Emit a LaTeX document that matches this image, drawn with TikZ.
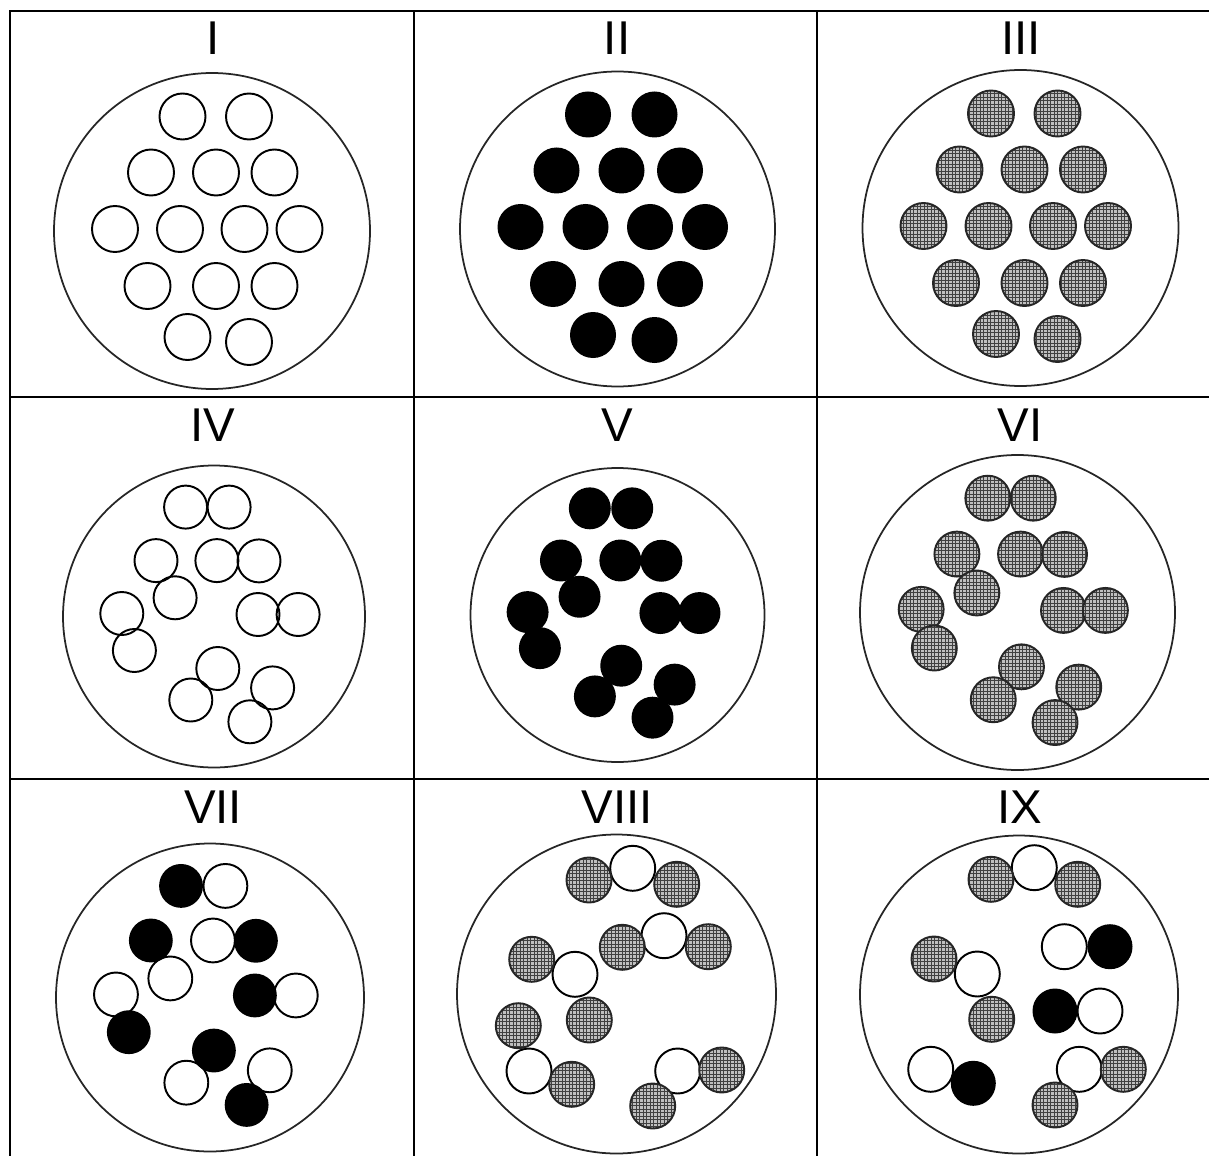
\documentclass[tikz,border=0pt]{standalone}
\usepackage{fontspec}
\setmainfont{Liberation Sans}
\usetikzlibrary{patterns}
\pgfdeclarepatternformonly{finegrid}{\pgfqpoint{-0.5pt}{-0.5pt}}{\pgfqpoint{2.5pt}{2.5pt}}{\pgfqpoint{2pt}{2pt}}{%
  \pgfsetlinewidth{0.5pt}%
  \pgfpathmoveto{\pgfqpoint{0pt}{-0.5pt}}\pgfpathlineto{\pgfqpoint{0pt}{2.5pt}}%
  \pgfpathmoveto{\pgfqpoint{-0.5pt}{0pt}}\pgfpathlineto{\pgfqpoint{2.5pt}{0pt}}%
  \pgfusepath{stroke}}
% regular packing (rows 2-3-4-3-2) and the loose packing of rows two and three
\newcommand{\packA}{-29.5/-114.5, 37/-114.5, -61/-58.5, 4/-58.5, 62.5/-58.5,
  -97/-2, -32/-2, 32.5/-2, 87.5/-2, -64.5/55, 4/55, 62.5/55, -24.5/106, 37/111}
\newcommand{\packB}{-28.4/-109.4, 15.1/-109.4, -58/-55.9, 2.9/-55.9, 45/-55.6,
  -38.9/-18.7, -92.2/-3, 44/-2, 84.1/-2, -79.6/34, 3.8/52, -23.2/83.5,
  58.6/71.4, 35.9/105.3}
\tikzset{
  cellline/.style  = {line width=0.8pt},
  dish/.style      = {draw=black!85, line width=1pt},
  openball/.style  = {draw=black, line width=1.1pt},
  darkball/.style  = {fill=black},
  hatchball/.style = {draw=black!85, line width=1.1pt, pattern=finegrid,
                      pattern color=black!75, preaction={fill=gray!50}},
  numeral/.style   = {anchor=base, font=\fontsize{27}{30}\selectfont}
}

\begin{document}
\begin{tikzpicture}[x=0.02cm, y=-0.02cm]
  \useasboundingbox (0,0) rectangle (1209,1155);
  \clip (0,0) rectangle (1209,1155);
  % --- the table
  \draw[line width=1.1pt] (10,11) rectangle (1222,1164);
  \draw[cellline] (414,11) -- (414,1164) (817,11) -- (817,1164);
  \draw[cellline] (10,397) -- (1222,397) (10,779) -- (1222,779);
  % --- numerals
  \node[numeral] (tagI)    at (213,55)   {I};
  \node[numeral] (tagII)   at (617,55)   {II};
  \node[numeral] (tagIII)  at (1021,55)  {III};
  \node[numeral] (tagIV)   at (213,441)  {IV};
  \node[numeral] (tagV)    at (617,441)  {V};
  \node[numeral] (tagVI)   at (1020,441) {VI};
  \node[numeral] (tagVII)  at (213,823)  {VII};
  \node[numeral] (tagVIII) at (617,823)  {VIII};
  \node[numeral] (tagIX)   at (1020,823) {IX};
  % --- top row: regular packing
  \draw[dish] (212,231) circle (158);
  \begin{scope}[shift={(212,231)}]
    \foreach \x/\y in \packA \draw[openball] (\x,\y) circle (23);
  \end{scope}
  \draw[dish] (617.5,229) circle (157.5);
  \begin{scope}[shift={(617.5,229)}]
    \foreach \x/\y in \packA \fill[darkball] (\x,\y) circle (23);
  \end{scope}
  \draw[dish] (1020.5,228) circle (158);
  \begin{scope}[shift={(1020.5,228)}]
    \foreach \x/\y in \packA \draw[hatchball] (\x,\y) circle (23);
  \end{scope}
  % --- middle row: loose pairs
  \draw[dish] (214,616.5) circle (151);
  \begin{scope}[shift={(214,616.5)}]
    \foreach \x/\y in \packB \draw[openball] (\x,\y) circle (21.5);
  \end{scope}
  \draw[dish] (617.5,615) circle (147);
  \begin{scope}[shift={(617.5,615)}, scale=0.975]
    \foreach \x/\y in \packB \fill[darkball] (\x,\y) circle (21.5);
  \end{scope}
  \draw[dish] (1017.5,612.5) circle (157.5);
  \begin{scope}[shift={(1017.5,612.5)}, scale=1.045]
    \foreach \x/\y in \packB \draw[hatchball] (\x,\y) circle (21.5);
  \end{scope}
  % --- bottom row: mixtures
  \draw[dish] (210,997.5) circle (154);
  \begin{scope}[shift={(210,997.5)}, scale=1.02]
    \foreach \x/\y in {15.1/-109.4, 2.9/-55.9, -38.9/-18.7, -92.2/-3, 84.1/-2,
        -23.2/83.5, 58.6/71.4}
      \draw[openball] (\x,\y) circle (21.5);
    \foreach \x/\y in {-28.4/-109.4, -58/-55.9, 45/-55.6, 44/-2, -79.6/34,
        3.8/52, 35.9/105.3}
      \fill[darkball] (\x,\y) circle (21.5);
  \end{scope}
  \draw[dish] (616.5,994) circle (159.5);
  \begin{scope}[shift={(616.5,994)}]
    \foreach \x/\y in {16.2/-125.7, 47.5/-58.3, -41.5/-19.7, -87.5/77, 61.2/77}
      \draw[openball] (\x,\y) circle (22.5);
    \foreach \x/\y in {-27.5/-114, 60.2/-109.7, 5.8/-46.7, 91.8/-47.3,
        -84.8/-34.7, -27.2/26, -98.2/31.7, -44.8/90.3, 105.2/76, 36.2/112}
      \draw[hatchball] (\x,\y) circle (22.5);
  \end{scope}
  \draw[dish] (1019,994.5) circle (159);
  \begin{scope}[shift={(1019,994.5)}]
    \foreach \x/\y in {15.3/-126.8, 45.3/-47.8, -41.7/-20.5, 81/16.5,
        -88.3/74.8, 60.3/74.8}
      \draw[openball] (\x,\y) circle (22.5);
    \foreach \x/\y in {91/-47.8, 36/16.5, -45.7/88.8}
      \fill[darkball] (\x,\y) circle (22.5);
    \foreach \x/\y in {-28/-115.2, 58.7/-110.2, -85/-35.5, -27.3/24.8,
        104.3/74.8, 36/110.5}
      \draw[hatchball] (\x,\y) circle (22.5);
  \end{scope}
\end{tikzpicture}
\end{document}
